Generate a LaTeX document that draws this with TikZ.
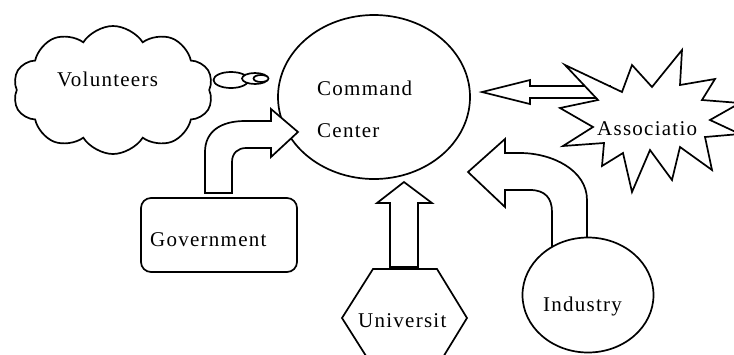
\documentclass[tikz,border=0pt]{standalone}
\usepackage{fontspec}
\setmainfont{Liberation Serif}[LetterSpace=6]
\usetikzlibrary{shapes.geometric,shapes.symbols}
\begin{document}
\begin{tikzpicture}[x=1pt,y=-1pt,
  shapeline/.style={draw=black, fill=white, line width=1.7pt, line join=miter},
  lbl/.style={anchor=base west, inner sep=0pt, font=\fontsize{21}{23}\selectfont}]
\clip (0,0) rectangle (734,354);
\fill[white] (0,0) rectangle (734,354);
% Volunteers cloud and bubbles
\node[shapeline, cloud, cloud puffs=10, cloud puff arc=115, cloud ignores aspect,
      minimum width=200pt, minimum height=128pt, inner sep=0pt] (vol) at (113,90) {};
\node[shapeline, ellipse, minimum width=35pt, minimum height=16pt, inner sep=0pt] (b1) at (231,80) {};
\node[shapeline, ellipse, minimum width=26pt, minimum height=11pt, inner sep=0pt] (b2) at (255,78.5) {};
\node[shapeline, ellipse, minimum width=15pt, minimum height=7pt, inner sep=0pt] (b3) at (261,78.5) {};
% Command Center
\node[shapeline, ellipse, minimum width=192pt, minimum height=164pt, inner sep=0pt] (cc) at (374,97) {};
% Government
\node[shapeline, rectangle, rounded corners=10pt, minimum width=156pt, minimum height=74pt] (gov) at (219,235) {};
\draw[shapeline] (205,193) -- (205,152) .. controls (205,132) and (220,121) .. (245,121)
  -- (271,121) -- (271,109) -- (298,132) -- (271,157) -- (271,148) -- (246,148)
  .. controls (238,148) and (232,153) .. (232,162) -- (232,193) -- cycle;
% University
\draw[shapeline] (390,267) -- (390,203) -- (377,203) -- (404,182) -- (432,203)
  -- (418,203) -- (418,267) -- cycle;
\draw[shapeline] (342,318) -- (373,269) -- (437,269) -- (467,318) -- (437,367)
  -- (373,367) -- cycle;
\coordinate (uni) at (404,318);
% Association
\draw[shapeline] (482,92) -- (530,80) -- (530,86) -- (610,86) -- (610,98)
  -- (530,98) -- (530,104) -- cycle;
\draw[shapeline] (565,65) -- (622,92) -- (632,65) -- (652,87) -- (682,50) -- (680,85)
  -- (715,79) -- (702,100) -- (740,103) -- (710,120) -- (740,134) -- (705,137)
  -- (712,170) -- (680,147) -- (672,180) -- (650,150) -- (632,192) -- (623,153)
  -- (602,166) -- (604,143) -- (563,146) -- (593,127) -- (560,108) -- (598,100) -- cycle;
\coordinate (assoc) at (646,125);
% Industry
\draw[shapeline] (587,255) -- (587,200) .. controls (587,170) and (552,153) .. (520,153)
  -- (505,153) -- (505,139) -- (468,172) -- (505,207) -- (505,190) -- (530,190)
  .. controls (545,190) and (552,198) .. (552,212) -- (552,255) -- cycle;
\node[shapeline, ellipse, minimum width=131pt, minimum height=115pt, inner sep=0pt] (ind) at (588,295) {};
% Labels
\node[lbl] (tvol) at (57,86) {Volunteers};
\node[lbl] (tcc1) at (317,95) {Command};
\node[lbl] (tcc2) at (317,137) {Center};
\node[lbl] (tgov) at (150,246) {Government};
\node[lbl] (tuni) at (358,327) {Universit};
\node[lbl] (tass) at (597,135) {Associatio};
\node[lbl] (tind) at (543,311) {Industry};
\end{tikzpicture}
\end{document}
